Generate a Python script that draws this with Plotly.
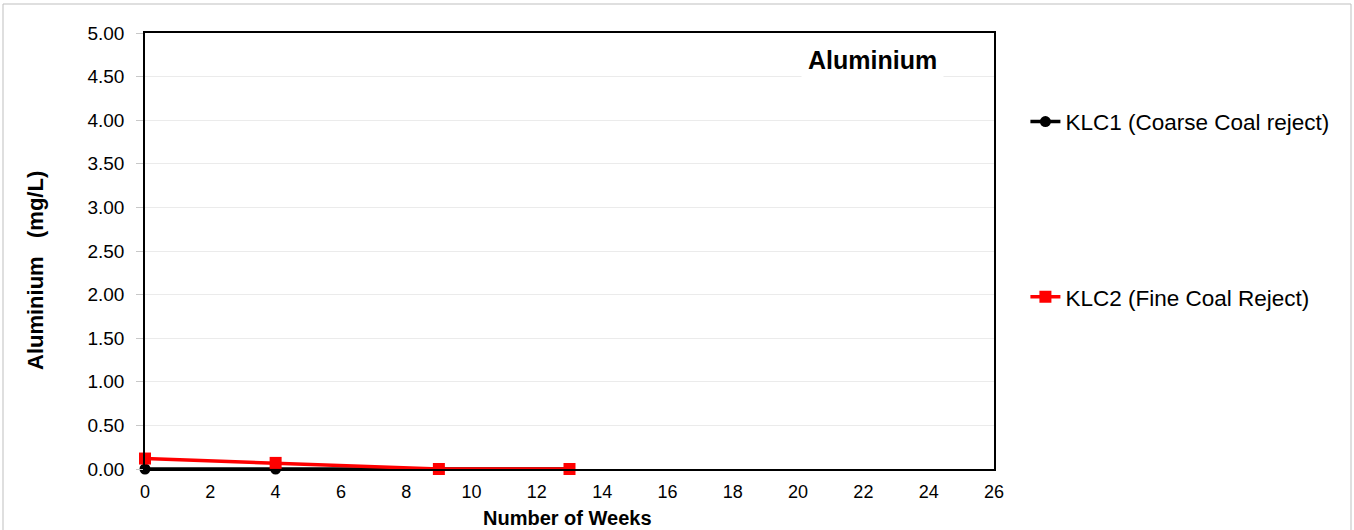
import plotly.graph_objects as go

weeks = [0, 4, 9, 13]
klc1 = [0.0, 0.0, 0.0, 0.0]
klc2 = [0.12, 0.07, 0.0, 0.0]
y_ticks = [0.0, 0.5, 1.0, 1.5, 2.0, 2.5, 3.0, 3.5, 4.0, 4.5, 5.0]
x_ticks = list(range(0, 27, 2))

FONT = "Liberation Sans, Arial, sans-serif"

fig = go.Figure()
fig.add_trace(go.Scatter(
    x=weeks, y=klc1, mode="lines+markers", name="KLC1 (Coarse Coal reject)",
    line=dict(color="black", width=3.5),
    marker=dict(symbol="circle", size=11, color="black"),
    cliponaxis=False, legend="legend",
))
fig.add_trace(go.Scatter(
    x=weeks, y=klc2, mode="lines+markers", name="KLC2 (Fine Coal Reject)",
    line=dict(color="#ff0000", width=3.5),
    marker=dict(symbol="square", size=12, color="#ff0000"),
    cliponaxis=False, legend="legend2",
))

legend_style = dict(
    xanchor="left", yanchor="middle", x=1.037,
    font=dict(family=FONT, size=22.5, color="black"),
    bgcolor="rgba(0,0,0,0)", itemwidth=30,
)

PLOT_L, PLOT_B, PLOT_W, PLOT_H = 145, 469, 849, 436

fig.update_layout(
    width=1354, height=530,
    margin=dict(l=145, r=360, t=33, b=61, autoexpand=False),
    paper_bgcolor="white", plot_bgcolor="white",
    font=dict(family=FONT, color="black"),
    showlegend=True,
    legend=dict(y=0.796, **legend_style),
    legend2=dict(y=0.394, **legend_style),
    xaxis=dict(
        range=[0, 26], tickvals=x_ticks, ticktext=[str(v) for v in x_ticks],
        showgrid=False, zeroline=False, showline=True, mirror=True,
        linecolor="black", linewidth=1.5, ticks="",
        ticklabelstandoff=6, automargin=False,
        tickfont=dict(family=FONT, size=18),
    ),
    yaxis=dict(
        range=[0, 5], tickvals=y_ticks, ticktext=[f"{v:.2f}" for v in y_ticks],
        showgrid=True, gridcolor="#ebebeb", gridwidth=1,
        zeroline=False, showline=True, mirror=True,
        linecolor="black", linewidth=1.5,
        ticks="outside", ticklen=7, tickcolor="#c8c8c8",
        ticklabelstandoff=8, automargin=False,
        tickfont=dict(family=FONT, size=19),
    ),
    annotations=[
        dict(
            text="<b>Aluminium</b>", xref="paper", yref="paper", x=0.857, y=0.938,
            xanchor="center", yanchor="middle", showarrow=False,
            font=dict(family=FONT, size=25, color="black"),
            bgcolor="white", borderpad=6,
        ),
        dict(
            text="<b>Aluminium   (mg/L)</b>", xref="paper", yref="paper",
            x=(35 - PLOT_L) / PLOT_W, y=(PLOT_B - 271) / PLOT_H,
            xanchor="center", yanchor="middle", textangle=-90, showarrow=False,
            font=dict(family=FONT, size=22, color="black"),
        ),
        dict(
            text="<b>Number of Weeks</b>", xref="paper", yref="paper",
            x=(567 - PLOT_L) / PLOT_W, y=(PLOT_B - 518) / PLOT_H,
            xanchor="center", yanchor="middle", showarrow=False,
            font=dict(family=FONT, size=20, color="black"),
        ),
    ],
    shapes=[dict(
        type="rect", xref="paper", yref="paper",
        x0=-142 / PLOT_W, x1=1206 / PLOT_W, y0=-80 / PLOT_H, y1=465 / PLOT_H,
        line=dict(color="#bfbfbf", width=1), fillcolor="rgba(0,0,0,0)", layer="below",
    )],
)

fig.write_html("out.html")
